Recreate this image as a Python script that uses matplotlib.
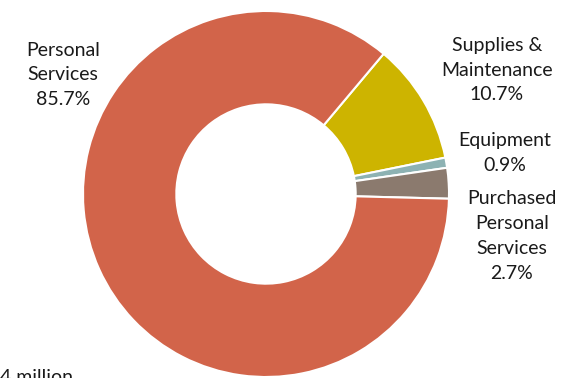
import matplotlib.pyplot as plt

plt.rcParams['font.family'] = ['Lato', 'DejaVu Sans']

# slice data (clockwise from the top-right)
categories = ["Supplies &\nMaintenance", "Equipment", "Purchased\nPersonal\nServices", "Personal\nServices"]
shares = [10.7, 0.9, 2.7, 85.7]
colors = ["#CDB400", "#8DB2B3", "#8B7A6E", "#D2644A"]

# label centres in figure pixels (from top-left)
label_pos = [(497, 70), (505, 153), (512, 236), (63, 75)]

W, H = 565, 378
fig = plt.figure(figsize=(W / 100, H / 100), dpi=100)

cx, cy, r = 266, 194, 183
ax = fig.add_axes([(cx - r) / W, (H - cy - r) / H, 2 * r / W, 2 * r / H])
ax.pie(shares, colors=colors, startangle=50, counterclock=False,
       wedgeprops=dict(width=0.51, edgecolor="white", linewidth=1.5))
ax.set_xlim(-1, 1)
ax.set_ylim(-1, 1)
ax.set_aspect("equal")
ax.axis("off")

for name, val, (x, y) in zip(categories, shares, label_pos):
    fig.text(x / W, 1 - y / H, f"{name}\n{val}%", ha="center", va="center",
             fontsize=14, color="#1a1a1a", linespacing=1.55)

# partially visible footnote at the bottom edge
fig.text(0.0, 1 - 369 / H, "4 million", ha="left", va="top", fontsize=14, color="#1a1a1a")

fig.savefig("out.png", dpi=100)
